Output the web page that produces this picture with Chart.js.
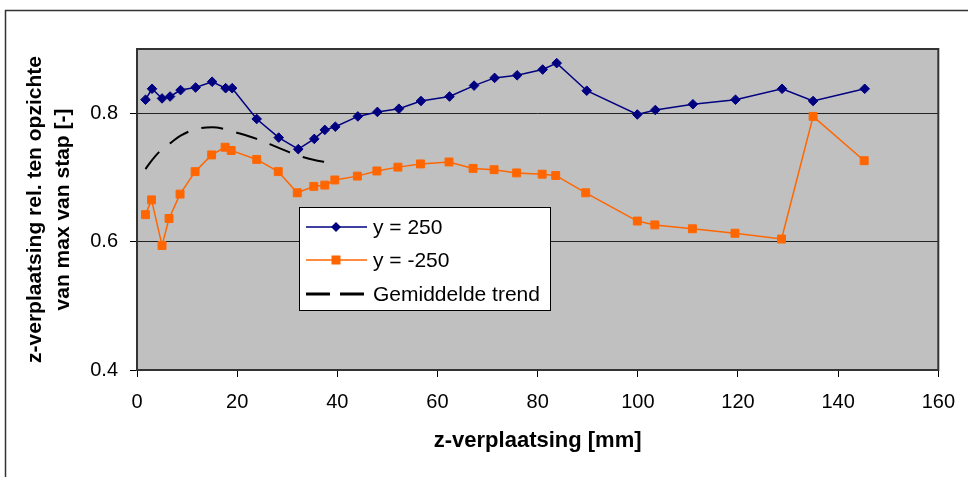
<!DOCTYPE html>
<html>
<head>
<meta charset="utf-8">
<script src="https://cdn.jsdelivr.net/npm/chart.js@4"></script>
<style>
  html, body { margin: 0; padding: 0; background: #fff; }
  canvas { display: block; }
</style>
</head>
<body>
<canvas id="chart" width="968" height="477"></canvas>
<script>
// values
const zPos = [1.7, 3.0, 5.0, 6.6, 8.7, 11.7, 15.0, 17.7, 19.0, 23.9, 28.3, 32.2, 35.4, 37.5, 39.6, 44.1, 48.0,
  52.3, 56.7, 62.4, 67.3, 71.4, 75.9, 81.0, 83.8, 89.8, 99.9, 103.5, 111.0, 119.5, 128.8, 135.0, 145.3];
const valPos = [0.821, 0.838, 0.823, 0.826, 0.836, 0.840, 0.849, 0.839, 0.839, 0.791, 0.762, 0.744, 0.760, 0.774,
  0.779, 0.795, 0.802, 0.807, 0.819, 0.826, 0.843, 0.855, 0.859, 0.868, 0.878, 0.835, 0.798, 0.805, 0.814, 0.821,
  0.838, 0.819, 0.838];

const zNeg = [1.7, 2.9, 5.0, 6.4, 8.6, 11.6, 14.9, 17.6, 18.8, 23.9, 28.2, 32.0, 35.3, 37.5, 39.5, 44.0, 47.9,
  52.1, 56.6, 62.3, 67.1, 71.3, 75.8, 80.9, 83.6, 89.6, 99.9, 103.4, 110.9, 119.4, 128.7, 135.0, 145.2];
const valNeg = [0.642, 0.665, 0.594, 0.636, 0.674, 0.709, 0.735, 0.747, 0.742, 0.728, 0.709, 0.676, 0.686, 0.688,
  0.696, 0.702, 0.710, 0.716, 0.721, 0.724, 0.714, 0.712, 0.707, 0.705, 0.703, 0.676, 0.632, 0.626, 0.620, 0.613,
  0.604, 0.795, 0.726];

const zTrend = [1.7, 3.0, 5.0, 6.6, 8.7, 11.7, 15.0, 17.7, 19.0, 23.9, 28.3, 32.2, 35.4, 37.8];
const valTrend = [0.713, 0.727, 0.744, 0.753, 0.765, 0.775, 0.778, 0.775, 0.772, 0.760, 0.746, 0.734, 0.727, 0.724];

const seriesNames = ['y = 250', 'y = -250', 'Gemiddelde trend'];
const yTicks = [0.4, 0.6, 0.8];

const FONT = '"Liberation Sans", Arial, sans-serif';
const BLUE = '#000080';
const ORANGE = '#ff6600';

function pairs(xs, ys){
  return xs.map((x, i) => ({ x, y: ys[i] }));
}

// grey plot area, outer frame and plot frame
const frame = {
  id: 'frame',
  beforeDraw(chart){
    const { ctx, chartArea: a } = chart;
    ctx.save();
    ctx.fillStyle = '#c0c0c0';
    ctx.fillRect(a.left, a.top, a.right - a.left, a.bottom - a.top);
    ctx.strokeStyle = '#333';
    ctx.lineWidth = 1.5;
    ctx.strokeRect(5.5, 10.5, 1200, 1200);
    ctx.restore();
  },
  beforeDatasetsDraw(chart){
    const { ctx, chartArea: a } = chart;
    ctx.save();
    ctx.strokeStyle = '#333';
    ctx.lineWidth = 2;
    ctx.strokeRect(a.left, a.top, a.right - a.left, a.bottom - a.top);
    ctx.restore();
  }
};

// legend box inside the plot, like the original
const boxLegend = {
  id: 'boxLegend',
  afterDraw(chart){
    const { ctx } = chart;
    const bx = 299.5, by = 207.5, bw = 251, bh = 103;
    const rows = [227, 260, 294];
    ctx.save();
    ctx.fillStyle = '#fff';
    ctx.fillRect(bx, by, bw, bh);
    ctx.strokeStyle = '#000';
    ctx.lineWidth = 1;
    ctx.strokeRect(bx, by, bw, bh);

    chart.data.datasets.forEach((ds, i) => {
      const y = rows[i];
      ctx.save();
      ctx.strokeStyle = ds.borderColor;
      ctx.lineWidth = i === 2 ? 3 : 1.5;
      ctx.setLineDash(i === 2 ? [24, 10] : []);
      ctx.beginPath();
      ctx.moveTo(306, y);
      ctx.lineTo(367, y);
      ctx.stroke();
      ctx.restore();
      if (i === 0) {
        ctx.fillStyle = BLUE;
        ctx.beginPath();
        ctx.moveTo(336, y - 5); ctx.lineTo(341, y); ctx.lineTo(336, y + 5); ctx.lineTo(331, y);
        ctx.closePath();
        ctx.fill();
      } else if (i === 1) {
        ctx.fillStyle = ORANGE;
        ctx.fillRect(331.5, y - 4.5, 9, 9);
      }
      ctx.fillStyle = '#000';
      ctx.font = '21px ' + FONT;
      ctx.textBaseline = 'middle';
      ctx.fillText(ds.label, 373, y + 1);
    });
    ctx.restore();
  }
};

new Chart(document.getElementById('chart'), {
  type: 'line',
  data: {
    datasets: [
      {
        label: seriesNames[0], data: pairs(zPos, valPos),
        borderColor: BLUE, backgroundColor: BLUE, borderWidth: 1.5,
        pointStyle: 'rectRot', pointRadius: 4.8, pointBorderWidth: 1,
        pointBackgroundColor: BLUE, pointBorderColor: BLUE, tension: 0
      },
      {
        label: seriesNames[1], data: pairs(zNeg, valNeg),
        borderColor: ORANGE, backgroundColor: ORANGE, borderWidth: 1.5,
        pointStyle: 'rect', pointRadius: 5.6, pointBorderWidth: 1,
        pointBackgroundColor: ORANGE, pointBorderColor: ORANGE, tension: 0
      },
      {
        label: seriesNames[2], data: pairs(zTrend, valTrend),
        borderColor: '#000', borderWidth: 2, borderDash: [22, 13.5],
        pointRadius: 0, tension: 0.35
      }
    ]
  },
  options: {
    responsive: false,
    animation: false,
    devicePixelRatio: 1,
    layout: { padding: { top: 49, right: 26, bottom: 0, left: 0 } },
    plugins: { legend: { display: false }, tooltip: { enabled: false } },
    scales: {
      x: {
        type: 'linear', min: 0, max: 160,
        ticks: { stepSize: 20, color: '#000', padding: 13, font: { family: FONT, size: 20 } },
        grid: { drawOnChartArea: false, drawTicks: true, tickLength: 7, tickColor: '#000' },
        border: { display: false },
        title: {
          display: true, text: 'z-verplaatsing [mm]', color: '#000',
          font: { family: FONT, size: 22, weight: 'bold' }, padding: { top: 0, bottom: 23 }
        },
        afterFit(scale){ scale.height = 107; }
      },
      y: {
        min: 0.4, max: 0.9,
        afterBuildTicks(scale){ scale.ticks = yTicks.map(v => ({ value: v })); },
        ticks: { color: '#000', padding: 12, font: { family: FONT, size: 20 },
          callback: v => v.toFixed(1) },
        grid: {
          color: c => (c.tick && c.tick.value === 0.4) ? 'rgba(0,0,0,0)' : '#222',
          lineWidth: 1, tickLength: 7, tickColor: '#000'
        },
        border: { display: false },
        title: {
          display: true, text: ['z-verplaatsing rel. ten opzichte', 'van max van stap [-]'], color: '#000',
          font: { family: FONT, size: 21, weight: 'bold', lineHeight: '28px' }, padding: { top: 21, bottom: 0 }
        },
        afterFit(scale){ scale.width = 137; }
      }
    }
  },
  plugins: [frame, boxLegend]
});
</script>
</body>
</html>
